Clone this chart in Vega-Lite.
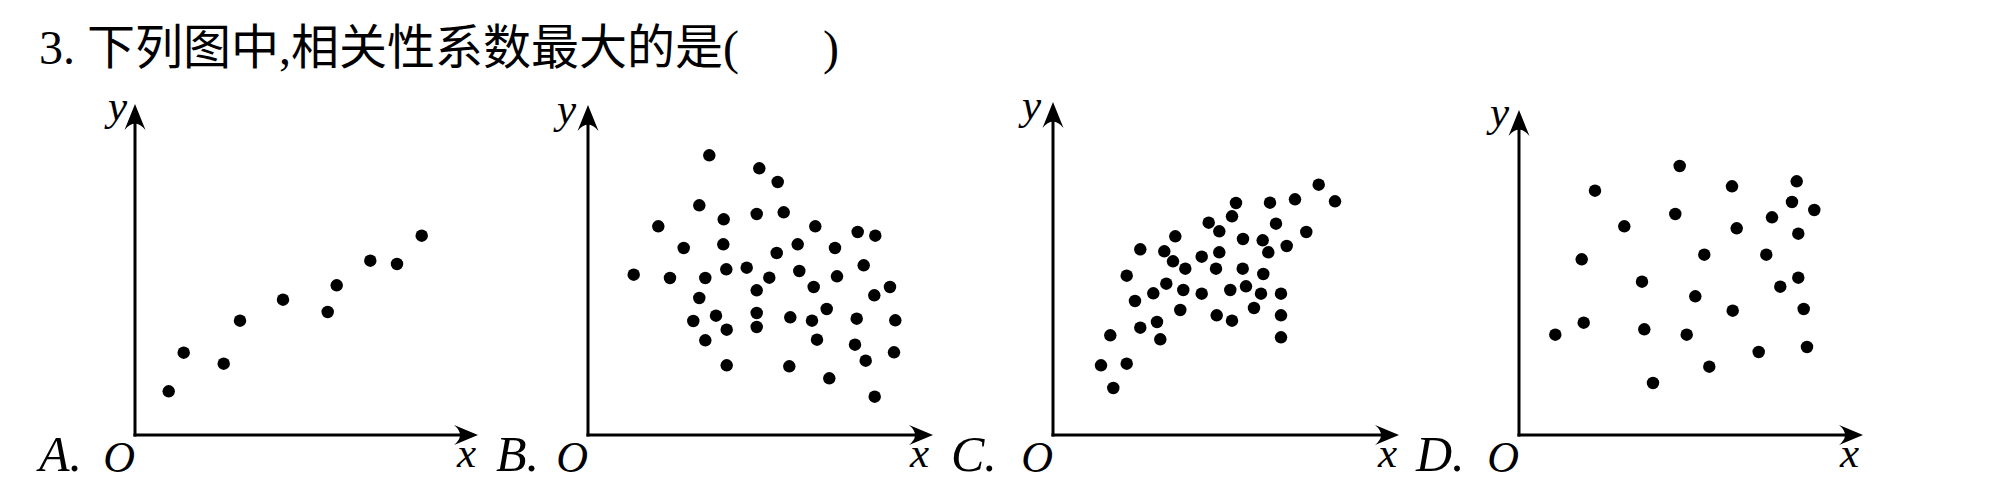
{
  "$schema": "https://vega.github.io/schema/vega-lite/v6.json",
  "background": "white",
  "padding": {"left": 38, "top": 25, "right": 10, "bottom": 10},
  "title": {
    "text": "3. 下列图中,相关性系数最大的是(\u00a0\u00a0\u00a0\u00a0\u00a0\u00a0\u00a0)",
    "anchor": "start",
    "font": "Liberation Serif, Noto Sans CJK SC",
    "fontSize": 48,
    "fontWeight": "normal",
    "color": "black",
    "offset": 11
  },
  "config": {"view": {"stroke": null}},
  "datasets": {
    "dots": [
      {"p":"A","x":3.37,"y":4.37},{"p":"A","x":4.87,"y":8.23},{"p":"A","x":8.87,"y":7.13},{"p":"A","x":10.5,"y":11.43},{"p":"A","x":14.8,"y":13.53},
      {"p":"A","x":19.27,"y":12.3},{"p":"A","x":20.17,"y":14.97},{"p":"A","x":23.53,"y":17.43},{"p":"A","x":26.2,"y":17.1},{"p":"A","x":28.67,"y":19.93},
      {"p":"B","x":12.13,"y":27.97},{"p":"B","x":17.13,"y":26.67},{"p":"B","x":18.97,"y":25.3},{"p":"B","x":11.13,"y":22.97},{"p":"B","x":7.03,"y":20.87},
      {"p":"B","x":13.57,"y":21.57},{"p":"B","x":16.87,"y":22.1},{"p":"B","x":19.57,"y":22.27},{"p":"B","x":22.73,"y":20.87},{"p":"B","x":26.97,"y":20.3},
      {"p":"B","x":28.73,"y":19.93},{"p":"B","x":9.57,"y":18.7},{"p":"B","x":13.53,"y":19.07},{"p":"B","x":18.87,"y":18.2},{"p":"B","x":20.97,"y":19.07},
      {"p":"B","x":24.7,"y":18.7},{"p":"B","x":27.57,"y":16.97},{"p":"B","x":4.57,"y":16.03},{"p":"B","x":8.2,"y":15.7},{"p":"B","x":11.73,"y":15.7},
      {"p":"B","x":13.83,"y":16.57},{"p":"B","x":15.87,"y":16.73},{"p":"B","x":18.13,"y":15.73},{"p":"B","x":21.13,"y":16.4},{"p":"B","x":24.9,"y":15.87},
      {"p":"B","x":16.87,"y":14.47},{"p":"B","x":22.57,"y":14.8},{"p":"B","x":28.63,"y":13.97},{"p":"B","x":30.2,"y":14.8},{"p":"B","x":11.13,"y":13.7},
      {"p":"B","x":12.8,"y":11.93},{"p":"B","x":10.53,"y":11.4},{"p":"B","x":16.87,"y":12.2},{"p":"B","x":20.23,"y":11.77},{"p":"B","x":23.87,"y":12.6},
      {"p":"B","x":22.4,"y":11.43},{"p":"B","x":26.87,"y":11.63},{"p":"B","x":30.73,"y":11.47},{"p":"B","x":13.87,"y":10.53},{"p":"B","x":16.87,"y":10.8},
      {"p":"B","x":11.73,"y":9.47},{"p":"B","x":22.9,"y":9.53},{"p":"B","x":26.7,"y":9.03},{"p":"B","x":30.6,"y":8.27},{"p":"B","x":27.77,"y":7.43},
      {"p":"B","x":13.87,"y":6.97},{"p":"B","x":20.13,"y":6.87},{"p":"B","x":24.13,"y":5.67},{"p":"B","x":28.67,"y":3.83},
      {"p":"C","x":26.57,"y":25.03},{"p":"C","x":28.2,"y":23.37},{"p":"C","x":18.3,"y":23.2},{"p":"C","x":21.7,"y":23.23},{"p":"C","x":24.2,"y":23.57},
      {"p":"C","x":17.9,"y":21.87},{"p":"C","x":15.57,"y":21.23},{"p":"C","x":22.3,"y":21.13},{"p":"C","x":16.63,"y":20.37},{"p":"C","x":25.33,"y":20.3},
      {"p":"C","x":12.23,"y":19.87},{"p":"C","x":19.0,"y":19.6},{"p":"C","x":20.97,"y":19.47},{"p":"C","x":23.37,"y":18.9},{"p":"C","x":8.73,"y":18.57},
      {"p":"C","x":11.13,"y":18.37},{"p":"C","x":16.63,"y":18.27},{"p":"C","x":21.53,"y":18.27},{"p":"C","x":14.87,"y":17.83},{"p":"C","x":12.0,"y":17.37},
      {"p":"C","x":13.23,"y":16.63},{"p":"C","x":16.3,"y":16.63},{"p":"C","x":18.97,"y":16.63},{"p":"C","x":21.03,"y":16.1},{"p":"C","x":7.37,"y":15.93},
      {"p":"C","x":11.33,"y":15.13},{"p":"C","x":19.3,"y":14.87},{"p":"C","x":13.03,"y":14.5},{"p":"C","x":17.73,"y":14.5},{"p":"C","x":10.03,"y":14.17},
      {"p":"C","x":14.87,"y":14.13},{"p":"C","x":20.8,"y":14.13},{"p":"C","x":22.8,"y":14.13},{"p":"C","x":8.2,"y":13.4},{"p":"C","x":20.1,"y":12.7},
      {"p":"C","x":12.73,"y":12.5},{"p":"C","x":16.37,"y":11.97},{"p":"C","x":22.8,"y":11.97},{"p":"C","x":17.9,"y":11.43},{"p":"C","x":10.4,"y":11.3},
      {"p":"C","x":8.73,"y":10.73},{"p":"C","x":5.73,"y":9.97},{"p":"C","x":10.73,"y":9.57},{"p":"C","x":22.8,"y":9.77},{"p":"C","x":7.37,"y":7.13},
      {"p":"C","x":4.8,"y":6.97},{"p":"C","x":6.03,"y":4.7},
      {"p":"D","x":16.07,"y":26.9},{"p":"D","x":27.77,"y":25.37},{"p":"D","x":7.6,"y":24.43},{"p":"D","x":21.3,"y":24.87},{"p":"D","x":27.3,"y":23.3},
      {"p":"D","x":29.53,"y":22.5},{"p":"D","x":15.63,"y":22.1},{"p":"D","x":25.3,"y":21.77},{"p":"D","x":10.53,"y":20.87},{"p":"D","x":21.77,"y":20.67},
      {"p":"D","x":27.93,"y":20.13},{"p":"D","x":18.53,"y":18.03},{"p":"D","x":24.73,"y":18.03},{"p":"D","x":6.27,"y":17.57},{"p":"D","x":12.3,"y":15.33},
      {"p":"D","x":27.93,"y":15.73},{"p":"D","x":26.13,"y":14.83},{"p":"D","x":17.63,"y":13.87},{"p":"D","x":21.37,"y":12.43},{"p":"D","x":28.47,"y":12.6},
      {"p":"D","x":6.47,"y":11.23},{"p":"D","x":3.63,"y":10.03},{"p":"D","x":12.53,"y":10.57},{"p":"D","x":16.77,"y":10.03},{"p":"D","x":23.97,"y":8.3},
      {"p":"D","x":28.8,"y":8.8},{"p":"D","x":19.03,"y":6.83},{"p":"D","x":13.4,"y":5.2}
    ],
    "axes": [
      {"p":"A","x":0,"y":0,"x2":33.3,"y2":0},{"p":"A","x":0,"y":0,"x2":0,"y2":32.1},
      {"p":"B","x":0,"y":0,"x2":33.5,"y2":0},{"p":"B","x":0,"y":0,"x2":0,"y2":32.0},
      {"p":"C","x":0,"y":0,"x2":33.6,"y2":0},{"p":"C","x":0,"y":0,"x2":0,"y2":32.3},
      {"p":"D","x":0,"y":0,"x2":33.4,"y2":0},{"p":"D","x":0,"y":0,"x2":0,"y2":31.5}
    ],
    "arrows": [
      {"p":"A","dir":"right","x":34.3,"y":0},{"p":"A","dir":"up","x":0,"y":33.1},
      {"p":"B","dir":"right","x":34.5,"y":0},{"p":"B","dir":"up","x":0,"y":33.0},
      {"p":"C","dir":"right","x":34.6,"y":0},{"p":"C","dir":"up","x":0,"y":33.3},
      {"p":"D","dir":"right","x":34.4,"y":0},{"p":"D","dir":"up","x":0,"y":32.5}
    ],
    "labels": [
      {"p":"A","k":"letter","x":-9.6,"y":-3.6,"t":"A."},{"p":"B","k":"letter","x":-9.2,"y":-3.6,"t":"B."},
      {"p":"C","k":"letter","x":-10.2,"y":-3.6,"t":"C."},{"p":"D","k":"letter","x":-10.3,"y":-3.6,"t":"D."},
      {"p":"A","k":"origin","x":0,"y":-3.7,"t":"O"},{"p":"B","k":"origin","x":0,"y":-3.7,"t":"O"},
      {"p":"C","k":"origin","x":0,"y":-3.7,"t":"O"},{"p":"D","k":"origin","x":0,"y":-3.7,"t":"O"},
      {"p":"A","k":"axis","x":32.2,"y":-3.2,"t":"x"},{"p":"A","k":"axis","x":-2.7,"y":31.5,"t":"y"},
      {"p":"B","k":"axis","x":32.2,"y":-3.2,"t":"x"},{"p":"B","k":"axis","x":-3.1,"y":31.2,"t":"y"},
      {"p":"C","k":"axis","x":32.5,"y":-3.2,"t":"x"},{"p":"C","k":"axis","x":-3.1,"y":31.6,"t":"y"},
      {"p":"D","k":"axis","x":32.1,"y":-3.2,"t":"x"},{"p":"D","k":"axis","x":-2.9,"y":30.9,"t":"y"}
    ]
  },
  "bounds": "flush",
  "spacing": 100,
  "resolve": {"scale": {"x": "independent", "y": "independent"}},
  "hconcat": [
    {
      "width": 353, "height": 333,
      "encoding": {
        "x": {"field": "x", "type": "quantitative", "scale": {"domain": [0, 35.3]}, "axis": null},
        "y": {"field": "y", "type": "quantitative", "scale": {"domain": [0, 33.3]}, "axis": null}
      },
      "layer": [
        {"data": {"name": "axes"}, "transform": [{"filter": "datum.p === 'A'"}],
         "mark": {"type": "rule", "color": "black", "strokeWidth": 3, "strokeCap": "square"},
         "encoding": {"x2": {"field": "x2"}, "y2": {"field": "y2"}}},
        {"data": {"name": "arrows"}, "transform": [{"filter": "datum.p === 'A'"}],
         "mark": {"type": "point", "filled": true, "color": "black", "opacity": 1, "size": 400, "strokeWidth": 0},
         "encoding": {"shape": {"field": "dir", "type": "nominal", "legend": null,
           "scale": {"domain": ["right", "up"], "range": ["M0,0 L-2.4,-1 Q-1.2,0 -2.4,1 Z", "M0,0 L-1.05,2.6 Q0,1.3 1.05,2.6 Z"]}}}},
        {"data": {"name": "dots"}, "transform": [{"filter": "datum.p === 'A'"}],
         "mark": {"type": "circle", "color": "black", "opacity": 1, "size": 155}},
        {"data": {"name": "labels"}, "transform": [{"filter": "datum.p === 'A' && datum.k === 'letter'"}],
         "mark": {"type": "text", "font": "Liberation Serif", "fontStyle": "italic", "fontSize": 50, "align": "left", "baseline": "alphabetic", "color": "black"},
         "encoding": {"text": {"field": "t"}}},
        {"data": {"name": "labels"}, "transform": [{"filter": "datum.p === 'A' && datum.k === 'origin'"}],
         "mark": {"type": "text", "font": "Liberation Serif", "fontStyle": "italic", "fontSize": 44, "align": "right", "baseline": "alphabetic", "color": "black"},
         "encoding": {"text": {"field": "t"}}},
        {"data": {"name": "labels"}, "transform": [{"filter": "datum.p === 'A' && datum.k === 'axis'"}],
         "mark": {"type": "text", "font": "Liberation Serif", "fontStyle": "italic", "fontSize": 43, "align": "left", "baseline": "alphabetic", "color": "black"},
         "encoding": {"text": {"field": "t"}}}
      ]
    },
    {
      "width": 365, "height": 333,
      "encoding": {
        "x": {"field": "x", "type": "quantitative", "scale": {"domain": [0, 36.5]}, "axis": null},
        "y": {"field": "y", "type": "quantitative", "scale": {"domain": [0, 33.3]}, "axis": null}
      },
      "layer": [
        {"data": {"name": "axes"}, "transform": [{"filter": "datum.p === 'B'"}],
         "mark": {"type": "rule", "color": "black", "strokeWidth": 3, "strokeCap": "square"},
         "encoding": {"x2": {"field": "x2"}, "y2": {"field": "y2"}}},
        {"data": {"name": "arrows"}, "transform": [{"filter": "datum.p === 'B'"}],
         "mark": {"type": "point", "filled": true, "color": "black", "opacity": 1, "size": 400, "strokeWidth": 0},
         "encoding": {"shape": {"field": "dir", "type": "nominal", "legend": null,
           "scale": {"domain": ["right", "up"], "range": ["M0,0 L-2.4,-1 Q-1.2,0 -2.4,1 Z", "M0,0 L-1.05,2.6 Q0,1.3 1.05,2.6 Z"]}}}},
        {"data": {"name": "dots"}, "transform": [{"filter": "datum.p === 'B'"}],
         "mark": {"type": "circle", "color": "black", "opacity": 1, "size": 155}},
        {"data": {"name": "labels"}, "transform": [{"filter": "datum.p === 'B' && datum.k === 'letter'"}],
         "mark": {"type": "text", "font": "Liberation Serif", "fontStyle": "italic", "fontSize": 50, "align": "left", "baseline": "alphabetic", "color": "black"},
         "encoding": {"text": {"field": "t"}}},
        {"data": {"name": "labels"}, "transform": [{"filter": "datum.p === 'B' && datum.k === 'origin'"}],
         "mark": {"type": "text", "font": "Liberation Serif", "fontStyle": "italic", "fontSize": 44, "align": "right", "baseline": "alphabetic", "color": "black"},
         "encoding": {"text": {"field": "t"}}},
        {"data": {"name": "labels"}, "transform": [{"filter": "datum.p === 'B' && datum.k === 'axis'"}],
         "mark": {"type": "text", "font": "Liberation Serif", "fontStyle": "italic", "fontSize": 43, "align": "left", "baseline": "alphabetic", "color": "black"},
         "encoding": {"text": {"field": "t"}}}
      ]
    },
    {
      "width": 366, "height": 333,
      "encoding": {
        "x": {"field": "x", "type": "quantitative", "scale": {"domain": [0, 36.6]}, "axis": null},
        "y": {"field": "y", "type": "quantitative", "scale": {"domain": [0, 33.3]}, "axis": null}
      },
      "layer": [
        {"data": {"name": "axes"}, "transform": [{"filter": "datum.p === 'C'"}],
         "mark": {"type": "rule", "color": "black", "strokeWidth": 3, "strokeCap": "square"},
         "encoding": {"x2": {"field": "x2"}, "y2": {"field": "y2"}}},
        {"data": {"name": "arrows"}, "transform": [{"filter": "datum.p === 'C'"}],
         "mark": {"type": "point", "filled": true, "color": "black", "opacity": 1, "size": 400, "strokeWidth": 0},
         "encoding": {"shape": {"field": "dir", "type": "nominal", "legend": null,
           "scale": {"domain": ["right", "up"], "range": ["M0,0 L-2.4,-1 Q-1.2,0 -2.4,1 Z", "M0,0 L-1.05,2.6 Q0,1.3 1.05,2.6 Z"]}}}},
        {"data": {"name": "dots"}, "transform": [{"filter": "datum.p === 'C'"}],
         "mark": {"type": "circle", "color": "black", "opacity": 1, "size": 155}},
        {"data": {"name": "labels"}, "transform": [{"filter": "datum.p === 'C' && datum.k === 'letter'"}],
         "mark": {"type": "text", "font": "Liberation Serif", "fontStyle": "italic", "fontSize": 50, "align": "left", "baseline": "alphabetic", "color": "black"},
         "encoding": {"text": {"field": "t"}}},
        {"data": {"name": "labels"}, "transform": [{"filter": "datum.p === 'C' && datum.k === 'origin'"}],
         "mark": {"type": "text", "font": "Liberation Serif", "fontStyle": "italic", "fontSize": 44, "align": "right", "baseline": "alphabetic", "color": "black"},
         "encoding": {"text": {"field": "t"}}},
        {"data": {"name": "labels"}, "transform": [{"filter": "datum.p === 'C' && datum.k === 'axis'"}],
         "mark": {"type": "text", "font": "Liberation Serif", "fontStyle": "italic", "fontSize": 43, "align": "left", "baseline": "alphabetic", "color": "black"},
         "encoding": {"text": {"field": "t"}}}
      ]
    },
    {
      "width": 350, "height": 333,
      "encoding": {
        "x": {"field": "x", "type": "quantitative", "scale": {"domain": [0, 35]}, "axis": null},
        "y": {"field": "y", "type": "quantitative", "scale": {"domain": [0, 33.3]}, "axis": null}
      },
      "layer": [
        {"data": {"name": "axes"}, "transform": [{"filter": "datum.p === 'D'"}],
         "mark": {"type": "rule", "color": "black", "strokeWidth": 3, "strokeCap": "square"},
         "encoding": {"x2": {"field": "x2"}, "y2": {"field": "y2"}}},
        {"data": {"name": "arrows"}, "transform": [{"filter": "datum.p === 'D'"}],
         "mark": {"type": "point", "filled": true, "color": "black", "opacity": 1, "size": 400, "strokeWidth": 0},
         "encoding": {"shape": {"field": "dir", "type": "nominal", "legend": null,
           "scale": {"domain": ["right", "up"], "range": ["M0,0 L-2.4,-1 Q-1.2,0 -2.4,1 Z", "M0,0 L-1.05,2.6 Q0,1.3 1.05,2.6 Z"]}}}},
        {"data": {"name": "dots"}, "transform": [{"filter": "datum.p === 'D'"}],
         "mark": {"type": "circle", "color": "black", "opacity": 1, "size": 155}},
        {"data": {"name": "labels"}, "transform": [{"filter": "datum.p === 'D' && datum.k === 'letter'"}],
         "mark": {"type": "text", "font": "Liberation Serif", "fontStyle": "italic", "fontSize": 50, "align": "left", "baseline": "alphabetic", "color": "black"},
         "encoding": {"text": {"field": "t"}}},
        {"data": {"name": "labels"}, "transform": [{"filter": "datum.p === 'D' && datum.k === 'origin'"}],
         "mark": {"type": "text", "font": "Liberation Serif", "fontStyle": "italic", "fontSize": 44, "align": "right", "baseline": "alphabetic", "color": "black"},
         "encoding": {"text": {"field": "t"}}},
        {"data": {"name": "labels"}, "transform": [{"filter": "datum.p === 'D' && datum.k === 'axis'"}],
         "mark": {"type": "text", "font": "Liberation Serif", "fontStyle": "italic", "fontSize": 43, "align": "left", "baseline": "alphabetic", "color": "black"},
         "encoding": {"text": {"field": "t"}}}
      ]
    }
  ]
}
